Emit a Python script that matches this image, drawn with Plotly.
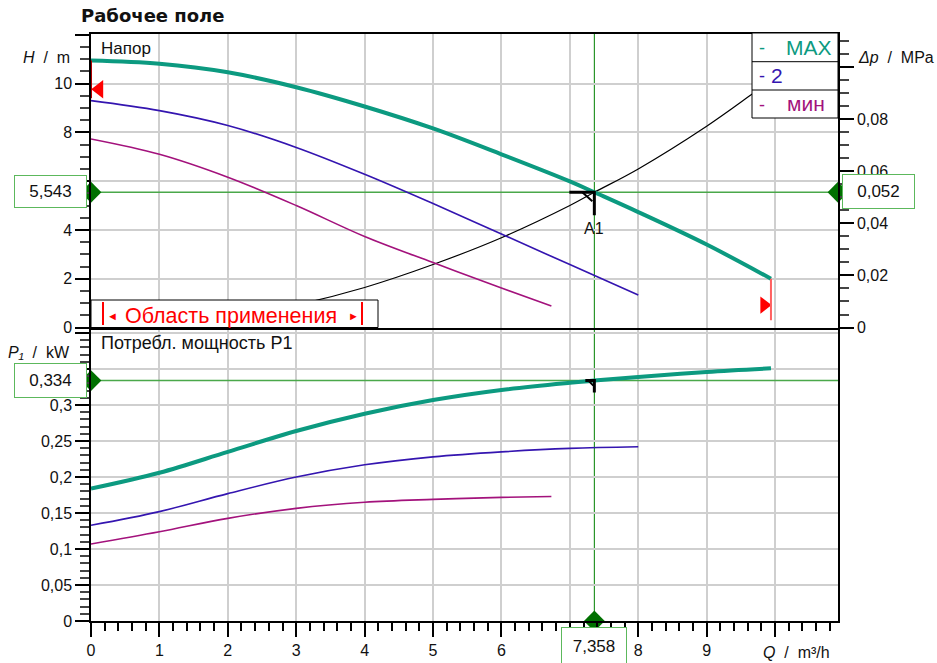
import plotly.graph_objects as go

# ---------------- data ----------------
# Pump curves, flow Q in m³/h
q_max = [0, 1, 2, 3, 4, 5, 6, 7, 7.358, 8, 9, 9.94]
h_max = [10.94, 10.81, 10.46, 9.85, 9.06, 8.16, 7.10, 5.99, 5.543, 4.73, 3.40, 2.0]
p_max = [0.184, 0.206, 0.235, 0.264, 0.288, 0.307, 0.321, 0.331, 0.334, 0.339, 0.346, 0.351]

q_2 = [0, 1, 2, 3, 4, 5, 6, 7, 8]
h_2 = [9.30, 8.89, 8.28, 7.38, 6.28, 5.08, 3.83, 2.58, 1.33]
p_2 = [0.133, 0.152, 0.177, 0.200, 0.217, 0.228, 0.235, 0.2398, 0.242]

q_min = [0, 1, 2, 3, 4, 5, 6, 6.73]
h_min = [7.73, 7.10, 6.16, 5.00, 3.73, 2.66, 1.62, 0.88]
p_min = [0.107, 0.124, 0.1426, 0.1565, 0.165, 0.169, 0.1718, 0.173]

# System curve
q_sys = [0, 1, 2, 3, 4, 5, 6, 7, 7.358, 8, 9, 9.7, 10.2]
h_sys = [0, 0.10, 0.41, 0.92, 1.64, 2.58, 3.68, 5.0, 5.543, 6.50, 8.25, 9.64, 10.65]

# Operating point A1
Q_OP = 7.358
H_OP = 5.543
DP_OP = 0.052
P_OP = 0.334

# Operating-range limit marks
H_LIMIT_LEFT = 9.77
Q_LIMIT_RIGHT = 9.84

q_ticks = [0, 1, 2, 3, 4, 5, 6, 7, 8, 9, 10]
q_ticktext = ["0", "1", "2", "3", "4", "5", "6", "", "8", "9", ""]
h_ticks = [0, 2, 4, 6, 8, 10, 12]
h_ticktext = ["0", "2", "4", "", "8", "10", ""]
dp_ticks = [0, 0.02, 0.04, 0.06, 0.08, 0.1]
dp_ticktext = ["0", "0,02", "0,04", "0,06", "0,08", ""]
p_ticks = [0, 0.05, 0.1, 0.15, 0.2, 0.25, 0.3, 0.35, 0.4]
p_ticktext = ["0", "0,05", "0,1", "0,15", "0,2", "0,25", "0,3", "", ""]

# ---------------- style ----------------
TEAL = "#0c9a80"
BLUE = "#3415b0"
MAGENTA = "#a3127c"
GREEN = "#008000"
GREEN_BOX = "#5cb85c"
DIAMOND = "#007000"
GRID = "#cfcfcf"
FONT = "Liberation Sans, Arial, sans-serif"

W, H = 937, 663
L, R, T, B = 91, 99, 34, 42
PW, PH = W - L - R, H - T - B
X_END = 10.92
H_END = 12.03
DP_END = H_END * DP_OP / H_OP
P_END = 0.405


def fx(px):
    return (px - L) / PW


def fy(py):
    return (H - B - py) / PH


fig = go.Figure()

top = dict(xaxis="x2", yaxis="y2")
bot = dict(xaxis="x", yaxis="y")

# system curve
fig.add_trace(go.Scatter(x=q_sys, y=h_sys, mode="lines", line=dict(color="black", width=1.2, shape="spline"),
                         hoverinfo="skip", **top))
# head curves
for q, h, c, w in [(q_min, h_min, MAGENTA, 1.6), (q_2, h_2, BLUE, 1.6), (q_max, h_max, TEAL, 4)]:
    fig.add_trace(go.Scatter(x=q, y=h, mode="lines", line=dict(color=c, width=w, shape="spline"),
                             hoverinfo="skip", **top))
# power curves
for q, p, c, w in [(q_min, p_min, MAGENTA, 1.6), (q_2, p_2, BLUE, 1.6), (q_max, p_max, TEAL, 4)]:
    fig.add_trace(go.Scatter(x=q, y=p, mode="lines", line=dict(color=c, width=w, shape="spline"),
                             hoverinfo="skip", **bot))

# operating point diamonds on the axes
fig.add_trace(go.Scatter(x=[0, X_END], y=[H_OP, H_OP], mode="markers", cliponaxis=False,
                         marker=dict(symbol="diamond", size=16, color=DIAMOND), hoverinfo="skip", **top))
fig.add_trace(go.Scatter(x=[0, Q_OP], y=[P_OP, 0], mode="markers", cliponaxis=False,
                         marker=dict(symbol="diamond", size=16, color=DIAMOND), hoverinfo="skip", **bot))

# red range limit triangles
fig.add_trace(go.Scatter(x=[0.12], y=[H_LIMIT_LEFT], mode="markers", cliponaxis=False,
                         marker=dict(symbol="triangle-left", size=16, color="#ff0000"), hoverinfo="skip", **top))
fig.add_trace(go.Scatter(x=[Q_LIMIT_RIGHT], y=[0.92], mode="markers", cliponaxis=False,
                         marker=dict(symbol="triangle-right", size=15, color="#ff0000"), hoverinfo="skip", **top))

shapes = []
# operating point guide lines
shapes.append(dict(type="line", xref="x2", yref="y2", x0=0, x1=X_END, y0=H_OP, y1=H_OP,
                   line=dict(color="#4aa84a", width=1.5), layer="between"))
shapes.append(dict(type="line", xref="x", yref="y", x0=0, x1=X_END, y0=P_OP, y1=P_OP,
                   line=dict(color="#4aa84a", width=1.5), layer="between"))
shapes.append(dict(type="line", xref="x", yref="paper", x0=Q_OP, x1=Q_OP, y0=0, y1=1,
                   line=dict(color=GREEN, width=1), layer="between"))

# red limit lines
shapes.append(dict(type="line", xref="x2", yref="y2", x0=0, x1=0, y0=h_max[0], y1=9.4,
                   line=dict(color="#b00000", width=2), layer="above"))
shapes.append(dict(type="line", xref="x2", yref="y2", x0=q_max[-1], x1=q_max[-1], y0=h_max[-1], y1=0.3,
                   line=dict(color="#ff6060", width=2), layer="above"))

# A1 marker (pixel offsets around the operating point)
for anchor_y, yref, path_main, path_diag in [
    (H_OP, "y2", "M -25,0 L 0,0 L 0,-23", "M -12,0 L -2,-9"),
    (P_OP, "y", "M -9,0 L 0,0 L 0,-12", "M -6,0 L -1,-5"),
]:
    shapes.append(dict(type="path", xref="x2" if yref == "y2" else "x", yref=yref,
                       xsizemode="pixel", ysizemode="pixel", xanchor=Q_OP, yanchor=anchor_y,
                       path=path_main, line=dict(color="black", width=3), layer="above"))
    shapes.append(dict(type="path", xref="x2" if yref == "y2" else "x", yref=yref,
                       xsizemode="pixel", ysizemode="pixel", xanchor=Q_OP, yanchor=anchor_y,
                       path=path_diag, line=dict(color="black", width=2), layer="above"))

# "Область применения" box
shapes.append(dict(type="rect", xref="paper", yref="paper", x0=fx(91), x1=fx(378), y0=fy(327.5), y1=fy(300),
                   fillcolor="white", line=dict(color="black", width=1), layer="above"))
for xp in (103, 362):
    shapes.append(dict(type="line", xref="paper", yref="paper", x0=fx(xp), x1=fx(xp), y0=fy(325), y1=fy(302),
                       line=dict(color="#ff0000", width=2), layer="above"))

# legend box
shapes.append(dict(type="rect", xref="paper", yref="paper", x0=fx(752), x1=fx(838), y0=fy(118), y1=fy(33),
                   fillcolor="white", line=dict(color="black", width=1), layer="above"))
for yp in (61.7, 90):
    shapes.append(dict(type="line", xref="paper", yref="paper", x0=fx(752), x1=fx(838), y0=fy(yp), y1=fy(yp),
                       line=dict(color="black", width=1), layer="above"))

annotations = []


def txt(text, px, py, size=16, color="#111", xanchor="center", yanchor="middle", family=FONT, **kw):
    annotations.append(dict(text=text, x=fx(px), y=fy(py), xref="paper", yref="paper", showarrow=False,
                            xanchor=xanchor, yanchor=yanchor, font=dict(size=size, color=color, family=family), **kw))


txt("<b>Рабочее поле</b>", 79, 15, size=18, xanchor="left", family="DejaVu Sans, Verdana, sans-serif")
txt("<i>H</i>  /  m", 72, 57, size=16, xanchor="right")
txt("<i>Δp</i>  /  MPa", 856, 57, size=16, xanchor="left")
txt("<i>P₁</i>  /  kW", 72, 352, size=16, xanchor="right")
txt("<i>Q</i>  /  m³/h", 832, 652, size=16, xanchor="right")
txt("Напор", 99, 48, size=17, xanchor="left")
txt("Потребл. мощность P1", 99, 343, size=18, xanchor="left")
txt("A1", 594, 228, size=16)
txt("Область применения", 231, 316, size=21.5, color="#ff0000")
txt("◄", 112, 316, size=11, color="#ff0000")
txt("►", 353, 316, size=11, color="#ff0000")

# legend entries
txt("-", 762, 48, size=18, color=TEAL)
txt("MAX", 809, 47, size=21, color=TEAL)
txt("-", 762, 76, size=18, color=BLUE)
txt("2", 777, 76, size=21, color=BLUE)
txt("-", 762, 105, size=18, color=MAGENTA)
txt("мин", 806, 104, size=21, color=MAGENTA)

# value boxes
box = dict(bgcolor="white", bordercolor=GREEN_BOX, borderwidth=1, borderpad=0)
txt("5,543", 50.5, 191.5, size=17, width=71, height=31, **box)
txt("0,052", 878.5, 191.5, size=17, width=71, height=33, **box)
txt("0,334", 50.5, 380.5, size=17, width=71, height=33, **box)
annotations.append(dict(text="7,358", x=Q_OP, y=fy(627), xref="x", yref="paper", showarrow=False,
                        xanchor="center", yanchor="top", width=64, height=36, valign="middle",
                        font=dict(size=17, color="#111", family=FONT), **box))

tickfont = dict(size=16, color="#111", family=FONT)
common = dict(showline=True, linecolor="black", linewidth=1.5, zeroline=False, ticks="outside",
              tickcolor="black", tickwidth=1.5, tickfont=tickfont, gridcolor=GRID, gridwidth=1.5,
              automargin=False)

fig.update_layout(
    width=W, height=H,
    margin=dict(l=L, r=R, t=T, b=B, autoexpand=False),
    paper_bgcolor="white", plot_bgcolor="white",
    showlegend=False,
    shapes=shapes,
    annotations=annotations,
    xaxis=dict(domain=[0, 1], anchor="y", range=[0, X_END], tickmode="array", tickvals=q_ticks,
               ticktext=q_ticktext, ticklen=14, mirror=True, showgrid=True,
               minor=dict(tickmode="linear", tick0=0, dtick=0.2, ticklen=8, ticks="outside",
                          tickcolor="black", showgrid=False), **common),
    xaxis2=dict(domain=[0, 1], anchor="y2", matches="x", range=[0, X_END], tickmode="array", tickvals=q_ticks,
                showticklabels=False, mirror=True, showgrid=True, **{**common, "ticks": ""}),
    yaxis=dict(domain=[0, fy(329.5)], anchor="x", range=[0, P_END], tickmode="array", tickvals=p_ticks,
               ticktext=p_ticktext, ticklen=14, mirror=True, showgrid=True,
               minor=dict(tickmode="linear", tick0=0, dtick=0.01, ticklen=9, ticks="outside",
                          tickcolor="#444", showgrid=False), **common),
    yaxis2=dict(domain=[fy(327.5), 1], anchor="x2", range=[0, H_END], tickmode="array", tickvals=h_ticks,
                ticktext=h_ticktext, ticklen=14, mirror=True, showgrid=True,
                minor=dict(tickmode="linear", tick0=0, dtick=0.5, ticklen=9, ticks="outside",
                           tickcolor="#444", showgrid=False), **common),
    yaxis3=dict(overlaying="y2", anchor="x2", side="right", range=[0, DP_END], tickmode="array",
                tickvals=dp_ticks, ticktext=dp_ticktext, ticklen=14, showgrid=False,
                minor=dict(tickmode="linear", tick0=0, dtick=0.005, ticklen=9, ticks="outside",
                           tickcolor="#444", showgrid=False), **common),
)

# invisible trace to activate the Δp axis
fig.add_trace(go.Scatter(x=[0], y=[0], xaxis="x2", yaxis="y3", mode="markers", marker=dict(opacity=0),
                         hoverinfo="skip"))

fig.write_html("out.html")
